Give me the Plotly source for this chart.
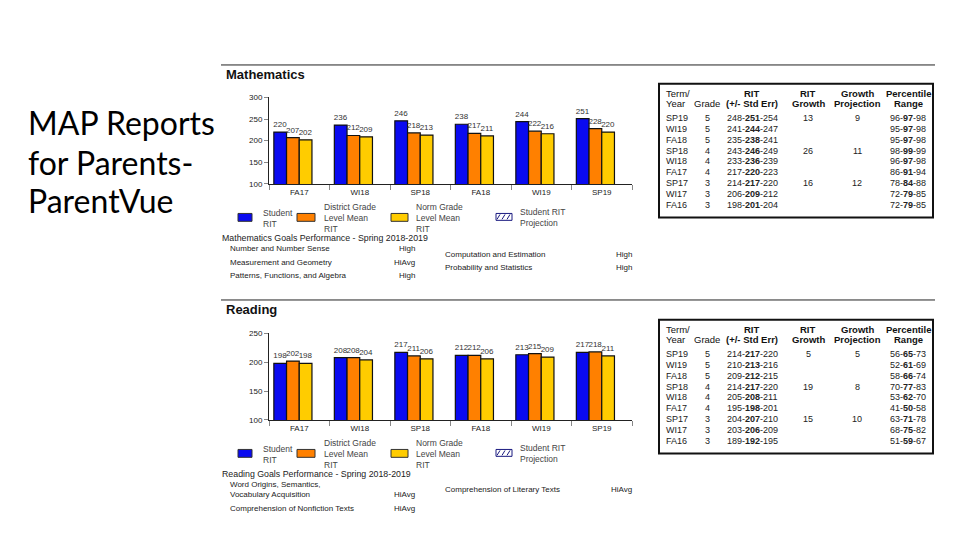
import plotly.graph_objects as go

# ---- data ----
terms = ["FA17", "WI18", "SP18", "FA18", "WI19", "SP19"]

math_student = [220, 236, 246, 238, 244, 251]
math_district = [207, 212, 218, 217, 222, 228]
math_norm = [202, 209, 213, 211, 216, 220]

read_student = [198, 208, 217, 212, 213, 217]
read_district = [202, 208, 211, 212, 215, 218]
read_norm = [198, 204, 206, 206, 209, 211]

table_terms = ["SP19", "WI19", "FA18", "SP18", "WI18", "FA17", "SP17", "WI17", "FA16"]
table_grades = ["5", "5", "5", "4", "4", "4", "3", "3", "3"]

math_rit = ["248-251-254", "241-244-247", "235-238-241", "243-246-249", "233-236-239",
            "217-220-223", "214-217-220", "206-209-212", "198-201-204"]
math_growth = ["13", "", "", "26", "", "", "16", "", ""]
math_projection = ["9", "", "", "11", "", "", "12", "", ""]
math_pct = ["96-97-98", "95-97-98", "95-97-98", "98-99-99", "96-97-98",
            "86-91-94", "78-84-88", "72-79-85", "72-79-85"]

read_rit = ["214-217-220", "210-213-216", "209-212-215", "214-217-220", "205-208-211",
            "195-198-201", "204-207-210", "203-206-209", "189-192-195"]
read_growth = ["5", "", "", "19", "", "", "15", "", ""]
read_projection = ["5", "", "", "8", "", "", "10", "", ""]
read_pct = ["56-65-73", "52-61-69", "58-66-74", "70-77-83", "53-62-70",
            "41-50-58", "63-71-78", "68-75-82", "51-59-67"]

math_goals_left = [("Number and Number Sense", "High"),
                   ("Measurement and Geometry", "HiAvg"),
                   ("Patterns, Functions, and Algebra", "High")]
math_goals_right = [("Computation and Estimation", "High"),
                    ("Probability and Statistics", "High")]
read_goals_left = [("Word Origins, Semantics,<br>Vocabulary Acquisition", "HiAvg"),
                   ("Comprehension of Nonfiction Texts", "HiAvg")]
read_goals_right = [("Comprehension of Literary Texts", "HiAvg")]

BLUE = "#0a0af0"
ORANGE = "#ff8000"
YELLOW = "#ffcc00"
FONT = "Liberation Sans"


def X(p):
    return p / 960


def Y(p):
    return 1 - p / 540


def bold_mid(s):
    a, b, c = s.split("-")
    return f"{a}-<b>{b}</b>-{c}"


def add_text(text, x, y, anchor="left", size=8, color="#222"):
    fig.add_annotation(text=text, xref="paper", yref="paper", x=X(x), y=Y(y),
                       xanchor=anchor, yanchor="middle", align="left", showarrow=False,
                       font=dict(size=size, color=color, family=FONT))


fig = go.Figure()

# ---- bar charts ----
series = [("Student RIT", BLUE, -0.42), ("District Grade Level Mean RIT", ORANGE, -0.21),
          ("Norm Grade Level Mean RIT", YELLOW, 0.0)]

for vals, xa, ya in [((math_student, math_district, math_norm), "x", "y"),
                     ((read_student, read_district, read_norm), "x2", "y2")]:
    for v, (name, color, off) in zip(vals, series):
        fig.add_trace(go.Bar(
            x=terms, y=v, name=name, xaxis=xa, yaxis=ya,
            offset=off, width=0.21,
            marker=dict(color=color, line=dict(color="#111", width=1.2)),
            text=v, textposition="outside", constraintext="none",
            textfont=dict(size=8, color="#333", family=FONT),
            showlegend=False
        ))

axis_common = dict(showline=True, linecolor="#222", linewidth=1, showgrid=False,
                   tickfont=dict(size=8, color="#222", family=FONT), zeroline=False)

fig.update_layout(
    xaxis=dict(domain=[X(269), X(632)], anchor="y", type="category",
               ticks="outside", tickson="boundaries", ticklen=5, tickcolor="#888",
               **axis_common),
    yaxis=dict(domain=[Y(183), Y(95)], anchor="x", range=[100, 300], dtick=50,
               ticks="outside", ticklen=4, tickcolor="#888", **axis_common),
    xaxis2=dict(domain=[X(269), X(632)], anchor="y2", type="category",
                ticks="outside", tickson="boundaries", ticklen=5, tickcolor="#888",
                **axis_common),
    yaxis2=dict(domain=[Y(423), Y(335)], anchor="x2", range=[100, 250], dtick=50,
                ticks="outside", ticklen=4, tickcolor="#888", **axis_common),
    barmode="overlay",
)

# ---- tables ----
col_x = [664, 707, 752, 808, 857, 908]
col_anchor = ["left", "center", "center", "center", "center", "center"]
head_top = [("Term/", False), ("", False), ("RIT", True), ("RIT", True),
            ("Growth", True), ("Percentile", True)]
head_bot = [("Year", False), ("Grade", False), ("(+/- Std Err)", True), ("Growth", True),
            ("Projection", True), ("Range", True)]

for (rit, gr, pr, pct), top in [((math_rit, math_growth, math_projection, math_pct), 81),
                                ((read_rit, read_growth, read_projection, read_pct), 321)]:
    fig.add_shape(type="rect", xref="paper", yref="paper",
                  x0=X(659), x1=X(933), y0=Y(top + 136), y1=Y(top),
                  line=dict(color="#111", width=2))
    for cx, anc, (t1, b1), (t2, b2) in zip(col_x, col_anchor, head_top, head_bot):
        if t1:
            add_text(f"<b>{t1}</b>" if b1 else t1, cx, top + 10, anchor=anc, size=9.5, color="#111")
        add_text(f"<b>{t2}</b>" if b2 else t2, cx, top + 20, anchor=anc, size=9.5, color="#111")
    columns = [table_terms, table_grades, [bold_mid(s) for s in rit], gr, pr,
               [bold_mid(s) for s in pct]]
    for cx, anc, col in zip(col_x, col_anchor, columns):
        for i, val in enumerate(col):
            if val:
                add_text(val, cx, top + 35 + 11 * i, anchor=anc, size=9, color="#222")

# ---- section lines and titles ----
for ly, title in [(62, "Mathematics"), (301, "Reading")]:
    fig.add_shape(type="line", xref="paper", yref="paper", x0=X(221), x1=X(935),
                  y0=Y(ly), y1=Y(ly), line=dict(color="#222", width=1))
    fig.add_annotation(text=f"<b>{title}</b>", xref="paper", yref="paper",
                       x=X(224), y=Y(ly + 10), xanchor="left", yanchor="middle",
                       showarrow=False, font=dict(size=13, color="#111", family=FONT))

# ---- legends ----
legend_items = [(238, 252, BLUE, 261, "Student<br>RIT"),
                (297, 315, ORANGE, 322, "District Grade<br>Level Mean<br>RIT"),
                (391, 408, YELLOW, 414, "Norm Grade<br>Level Mean<br>RIT")]
for dy in [0, 240]:
    for x0, x1, color, tx, label in legend_items:
        fig.add_shape(type="rect", xref="paper", yref="paper", x0=X(x0), x1=X(x1),
                      y0=Y(221 + dy), y1=Y(213 + dy), fillcolor=color,
                      line=dict(color="#333", width=1))
        add_text(label, tx, 218 + dy, size=8.5, color="#444")
    fig.add_shape(type="rect", xref="paper", yref="paper", x0=X(496), x1=X(512),
                  y0=Y(220 + dy), y1=Y(213 + dy), fillcolor="white",
                  line=dict(color="#1a1a80", width=1))
    for hx in [499, 504, 509]:
        fig.add_shape(type="line", xref="paper", yref="paper", x0=X(hx - 2), x1=X(hx + 1),
                      y0=Y(219 + dy), y1=Y(214 + dy), line=dict(color="#1a1a80", width=1))
    add_text("Student RIT<br>Projection", 518, 217 + dy, size=8.5, color="#444")

# ---- goals ----
add_text("Mathematics Goals Performance - Spring 2018-2019", 220, 238, size=8.8)
for (name, val), gy in zip(math_goals_left, [249, 263, 276]):
    add_text(name, 228, gy)
    add_text(val, 417, gy, anchor="right")
for (name, val), gy in zip(math_goals_right, [255, 268]):
    add_text(name, 443, gy)
    add_text(val, 634, gy, anchor="right")

add_text("Reading Goals Performance - Spring 2018-2019", 220, 478, size=8.8)
for (name, val), gy, vy in zip(read_goals_left, [494, 513], [499, 513]):
    add_text(name, 228, gy)
    add_text(val, 417, vy, anchor="right")
for (name, val), gy in zip(read_goals_right, [494]):
    add_text(name, 443, gy)
    add_text(val, 634, gy, anchor="right")

# ---- slide title ----
for line, ty in zip(["MAP Reports", "for Parents-", "ParentVue"], [121, 161, 200]):
    fig.add_annotation(text=line, xref="paper", yref="paper", x=X(26), y=Y(ty),
                       xanchor="left", yanchor="middle", align="left", showarrow=False,
                       font=dict(size=32, color="#000", family="Lato"))

fig.update_layout(
    width=960, height=540,
    margin=dict(l=0, r=0, t=0, b=0),
    paper_bgcolor="white", plot_bgcolor="white",
    showlegend=False,
)

fig.write_html("out.html", config={"displayModeBar": False},
               post_script="document.body.style.margin='0';")
